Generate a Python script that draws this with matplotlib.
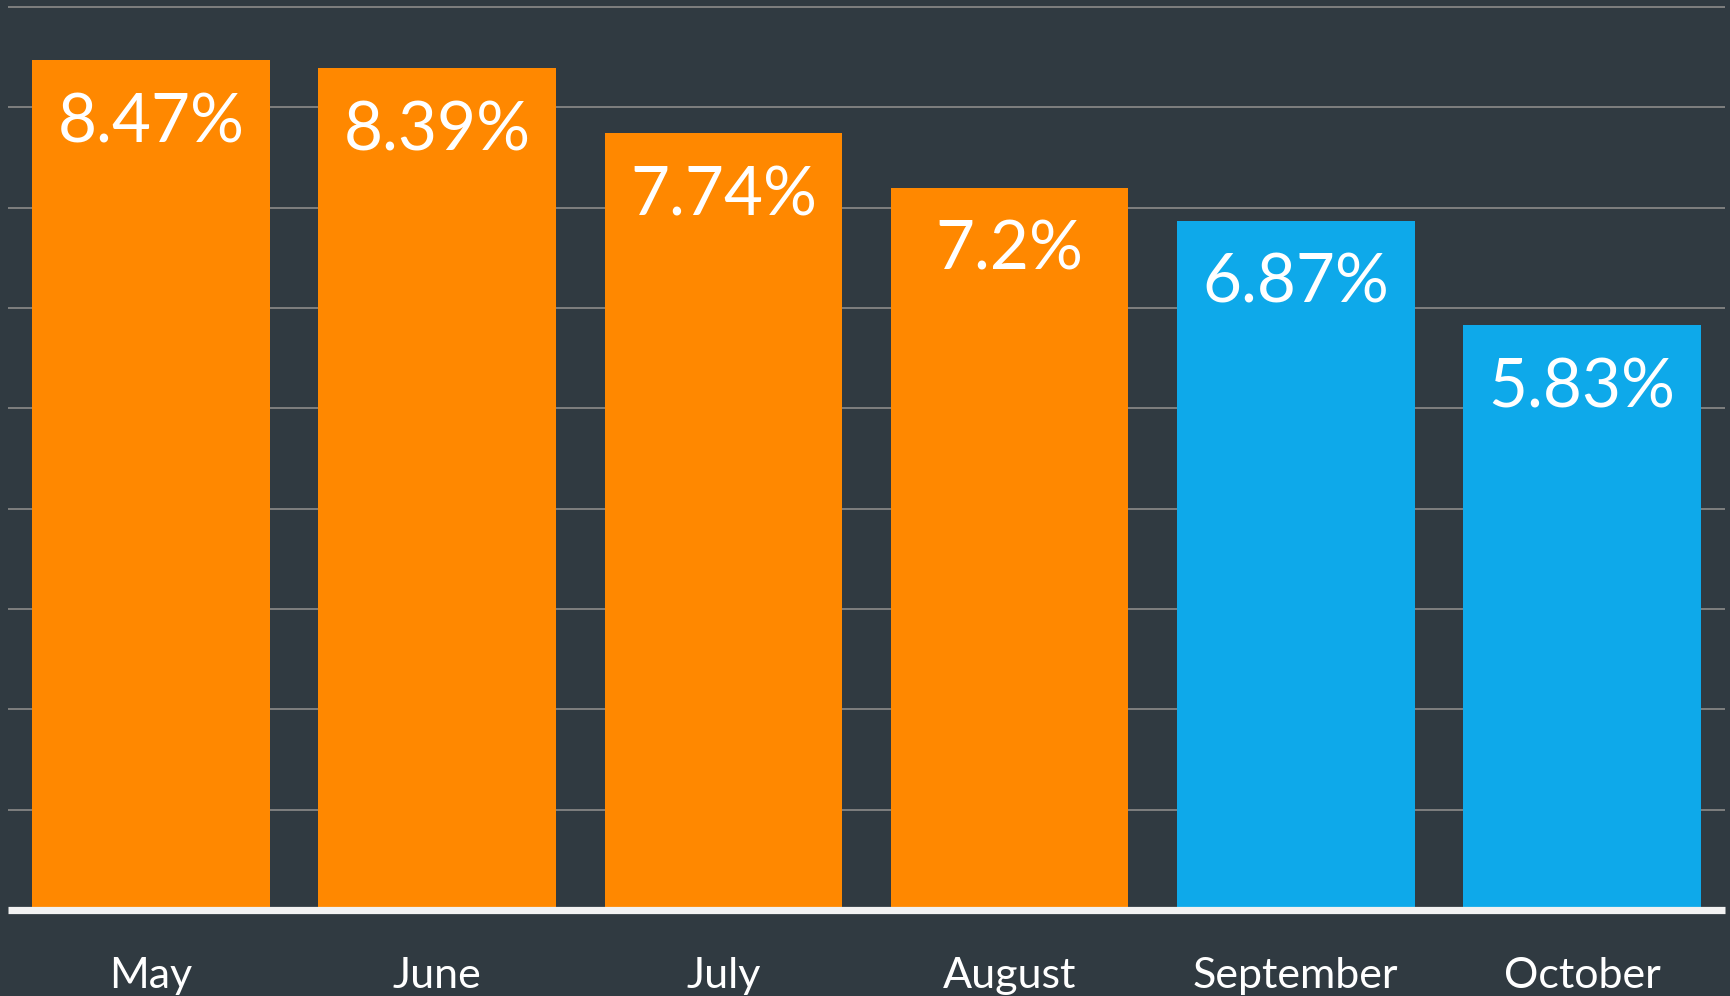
import matplotlib
matplotlib.use("Agg")
import matplotlib.pyplot as plt
import matplotlib.transforms as mtransforms

months = ["May", "June", "July", "August", "September", "October"]
values = [8.47, 8.39, 7.74, 7.2, 6.87, 5.83]
labels = ["8.47%", "8.39%", "7.74%", "7.2%", "6.87%", "5.83%"]
colors = ["#FF8800", "#FF8800", "#FF8800", "#FF8800", "#0EA9EA", "#0EA9EA"]

BG = "#303A41"
plt.rcParams['font.family'] = ['Lato', 'DejaVu Sans']

fig = plt.figure(figsize=(17.31, 9.96), dpi=100, facecolor=BG)
ax = fig.add_axes([8/1731, (996-910)/996, (1725-8)/1731, (910-7)/996])
ax.set_facecolor(BG)
ax.set_xlim(-0.5, 5.5)
ax.set_ylim(0, 9)

for yv in range(1, 10):
    ax.axhline(yv, color="#7F7F7F", lw=1.4, zorder=1, clip_on=False,
               solid_capstyle="butt")

x = list(range(len(months)))
bars = ax.bar(x, values, width=0.83, color=colors, zorder=2)
ax.axhline(0, color="#F2F2F2", lw=5.2, zorder=3, clip_on=False,
           solid_capstyle="butt")

for xi, v, lab in zip(x, values, labels):
    ax.annotate(lab, xy=(xi, v), xytext=(0, -59), textcoords="offset points",
                ha="center", va="baseline", color="white", fontsize=48.5, zorder=4)

trans = mtransforms.blended_transform_factory(ax.transData, fig.transFigure)
for xi, m in zip(x, months):
    ax.text(xi, (996-988)/996, m, transform=trans, ha="center", va="baseline",
            color="white", fontsize=31, clip_on=False)

for s in ax.spines.values():
    s.set_visible(False)
ax.set_xticks([])
ax.set_yticks([])

fig.savefig("out.png", dpi=100, facecolor=BG)
